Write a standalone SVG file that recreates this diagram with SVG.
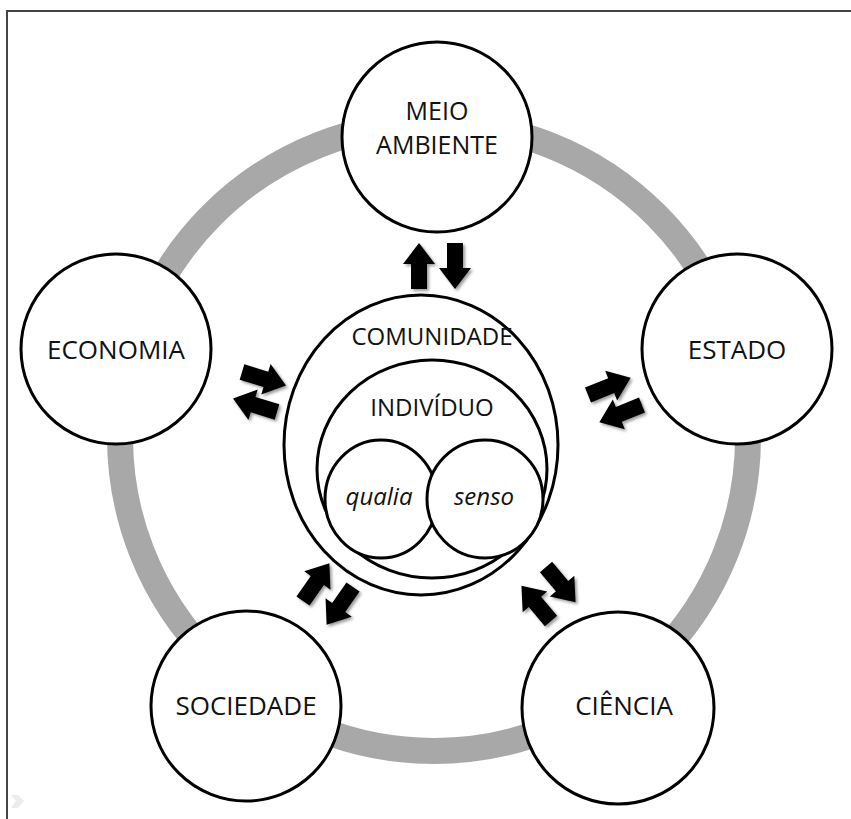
<svg xmlns="http://www.w3.org/2000/svg" width="851" height="819" viewBox="0 0 851 819">
<style>
.node{fill:#fff;stroke:#000;stroke-width:3}
.lbl{font-family:"Open Sans","Noto Sans",sans-serif;font-size:26px;fill:#111;text-anchor:middle}
.in{font-size:24px}
.two{font-size:25px}
.it{font-style:italic}
.arr{fill:#000}
</style>
<defs>
<polygon id="arrow" points="0,-8 25,-8 25,-16 46,0 25,16 25,8 0,8"/>
<filter id="sh" x="-20%" y="-20%" width="140%" height="140%">
<feGaussianBlur in="SourceAlpha" stdDeviation="1.5"/>
<feOffset dx="1.5" dy="1.5" result="b"/>
<feComponentTransfer><feFuncA type="linear" slope="0.4"/></feComponentTransfer>
<feMerge><feMergeNode/><feMergeNode in="SourceGraphic"/></feMerge>
</filter>
</defs>
<rect width="851" height="819" fill="#fff"/>
<path d="M7,819 V11 H851" fill="none" stroke="#444" stroke-width="2"/>
<polygon points="11,795 18,795 24,801 18,808 11,808 16,801" fill="#ececec"/>
<circle id="ring" cx="434" cy="437" r="314" fill="none" stroke="#a8a8a8" stroke-width="26"/>
<g id="meio"><circle class="node" cx="437" cy="137" r="95"/><text class="lbl two" x="437" y="120">MEIO</text><text class="lbl two" x="437" y="154">AMBIENTE</text></g>
<g id="economia"><circle class="node" cx="116" cy="349" r="95"/><text class="lbl" x="116" y="359">ECONOMIA</text></g>
<g id="estado"><circle class="node" cx="737" cy="349" r="95"/><text class="lbl" x="737" y="359">ESTADO</text></g>
<g id="sociedade"><circle class="node" cx="246" cy="706" r="95"/><text class="lbl" x="246" y="715">SOCIEDADE</text></g>
<g id="ciencia"><circle class="node" cx="618" cy="708" r="96"/><text class="lbl" x="624" y="715">CIÊNCIA</text></g>
<g id="comunidade"><ellipse class="node" cx="421" cy="445" rx="137" ry="150"/><text class="lbl in" x="432" y="345">COMUNIDADE</text></g>
<g id="individuo"><ellipse class="node" cx="432" cy="469" rx="115" ry="109"/><text class="lbl in" x="432" y="416">INDIVÍDUO</text></g>
<g id="qualia"><ellipse class="node" cx="381" cy="499" rx="56" ry="59"/><text class="lbl in it" x="379" y="505">qualia</text></g>
<g id="senso"><ellipse class="node" cx="485" cy="499" rx="58" ry="59" fill="none"/><text class="lbl in it" x="484" y="505">senso</text></g>
<g id="connectors" class="arr" filter="url(#sh)">
<use href="#arrow" transform="translate(419,289) rotate(-90)"/>
<use href="#arrow" transform="translate(455,243) rotate(90)"/>
<use href="#arrow" transform="translate(242,372) rotate(17)"/>
<use href="#arrow" transform="translate(277,412) rotate(197)"/>
<use href="#arrow" transform="translate(588,395) rotate(-22)"/>
<use href="#arrow" transform="translate(642,405) rotate(158)"/>
<use href="#arrow" transform="translate(303,601) rotate(-55)"/>
<use href="#arrow" transform="translate(353,587) rotate(125)"/>
<use href="#arrow" transform="translate(546,567) rotate(50)"/>
<use href="#arrow" transform="translate(551,621) rotate(230)"/>
</g>
</svg>
